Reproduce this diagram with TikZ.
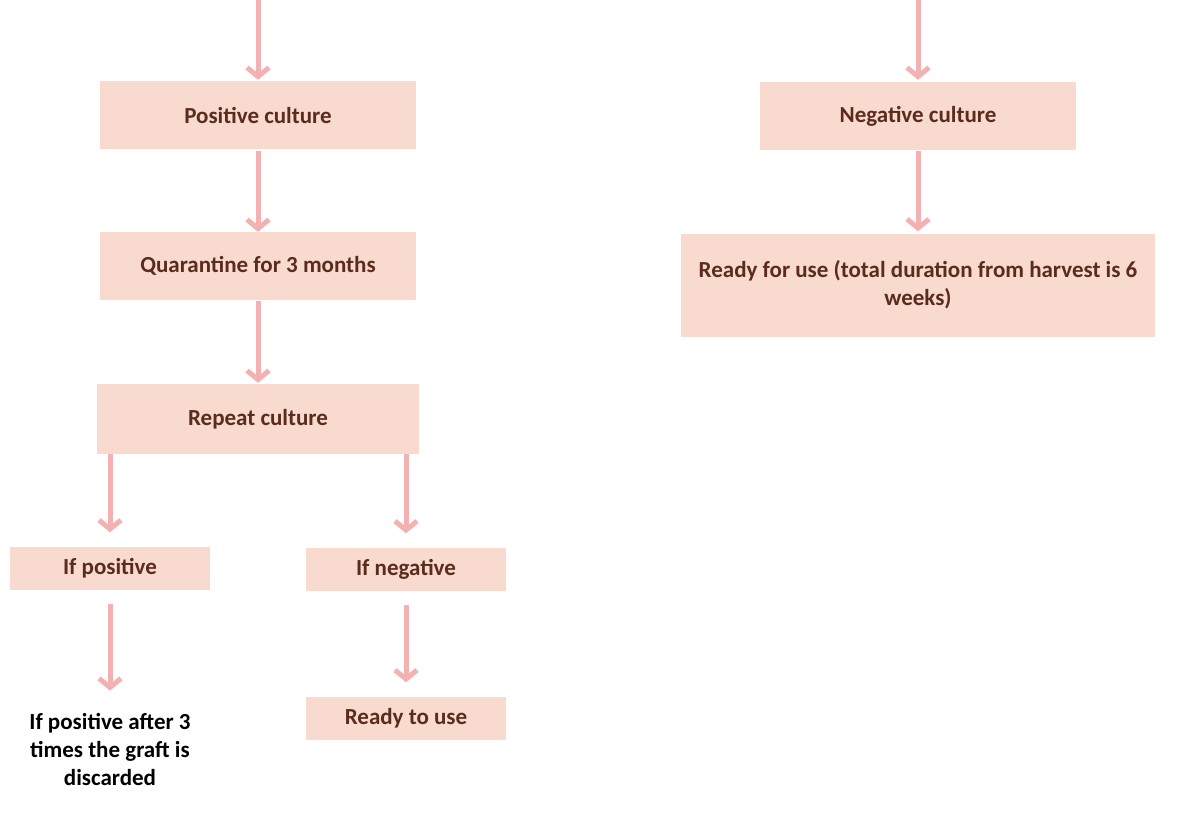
\documentclass[tikz,border=0pt]{standalone}
\usepackage{fontspec}
\setmainfont{Carlito}
\usepackage{tikz}
\usetikzlibrary{arrows.meta}
\usetikzlibrary{positioning}
\definecolor{boxfill}{HTML}{F8DACE}
\definecolor{boxtext}{HTML}{5A2C1E}
\definecolor{arrowpink}{HTML}{F4B1B1}
\tikzset{
	step box/.style={
			fill=boxfill, text=boxtext, inner sep=0pt, align=center,
			minimum width=316pt, minimum height=68pt,
			font=\bfseries\fontsize{23}{28}\selectfont
		},
	small box/.style={step box, minimum width=200pt, minimum height=43pt},
	flow/.style={draw=arrowpink, line width=5pt,
			-{Straight Barb[length=9pt,width=22pt]}}
}

\begin{document}
\begin{tikzpicture}[x=1pt, y=-1pt]
  \useasboundingbox (0,0) rectangle (1202,816);

  \coordinate (topleft) at (258,0);
  \coordinate (topright) at (918,0);

  \node[step box] (poscult) at (258,115) {Positive culture};
  \node[step box] (quarantine) at (258,266) {Quarantine for 3 months};
  \node[step box, minimum width=322pt, minimum height=70pt] (repeat) at (258,419) {Repeat culture};
  \node[small box] (ifpos) at (110,568) {If positive};
  \node[small box] (ifneg) at (406,569) {If negative};
  \node[small box] (readyuse) at (406,718) {Ready to use};
  \node[align=center, inner sep=0pt, font=\bfseries\fontsize{23}{28}\selectfont] (discard) at (110,749) {If positive after 3\\times the graft is\\discarded};

  \node[step box] (negcult) at (918,116) {Negative culture};
  \node[step box, minimum width=474pt, minimum height=103pt] (readyfor) at (918,285) {Ready for use (total duration from harvest is 6\\weeks)};

  \path (topleft) edge[flow, shorten >=1pt] (poscult)
    (poscult) edge[flow, shorten <=2pt] (quarantine)
    (quarantine) edge[flow, shorten <=1pt, shorten >=1pt] (repeat)
    (repeat.south -| ifpos) edge[flow, shorten >=14pt] (ifpos)
    (repeat.south -| ifneg) edge[flow, shorten >=14pt] (ifneg)
    (ifpos) edge[flow, shorten <=14pt, shorten >=22pt] (discard)
    (ifneg) edge[flow, shorten <=14pt, shorten >=14pt] (readyuse);

  \path (topright) edge[flow, shorten >=2pt] (negcult)
    (negcult) edge[flow, shorten <=1pt, shorten >=2pt] (readyfor);

\end{tikzpicture}
\end{document}
